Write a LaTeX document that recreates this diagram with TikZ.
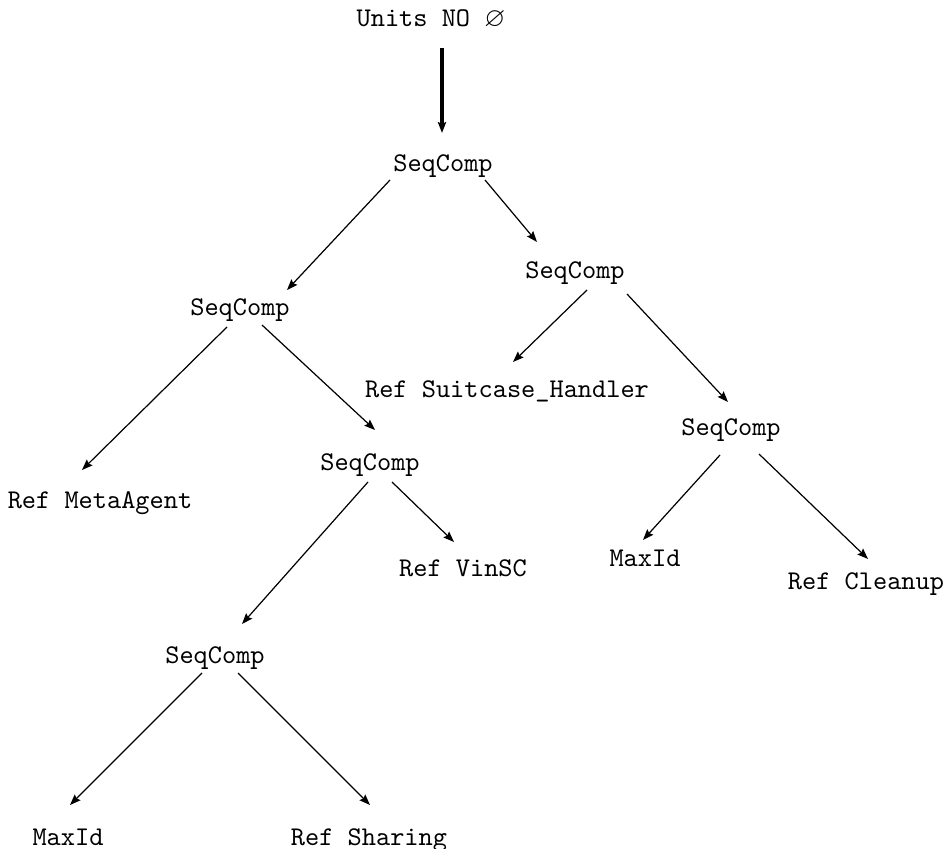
\documentclass[tikz,border=0pt]{standalone}
\usepackage{amssymb}
\usetikzlibrary{arrows.meta}
\begin{document}
\begin{tikzpicture}[x=0.37pt,y=-0.37pt,
  lbl/.style={font=\ttfamily, inner sep=0pt, anchor=base},
  edge/.style={line width=0.45pt, -{Stealth[length=4pt,width=3pt,inset=0.6pt]}},
  rootedge/.style={line width=1.2pt, -{Stealth[length=4pt,width=3pt,inset=0.6pt]}}]
\useasboundingbox (0,0) rectangle (945,849);

% labels of the tree, placed at their baselines
\node[lbl] (units) at (431,27)  {Units NO $\varnothing$};
\node[lbl] (s0)    at (443,172) {SeqComp};
\node[lbl] (sl)    at (240,316) {SeqComp};
\node[lbl] (sr)    at (575,279) {SeqComp};
\node[lbl] (suit)  at (507,398) {Ref Suitcase\_Handler};
\node[lbl] (srr)   at (731,436) {SeqComp};
\node[lbl] (maxr)  at (645,566) {MaxId};
\node[lbl] (clean) at (866,590) {Ref Cleanup};
\node[lbl] (meta)  at (100,508) {Ref MetaAgent};
\node[lbl] (slr)   at (370,471) {SeqComp};
\node[lbl] (vin)   at (463,576) {Ref VinSC};
\node[lbl] (sll)   at (215,663) {SeqComp};
\node[lbl] (maxl)  at (68,845)  {MaxId};
\node[lbl] (share) at (369,845) {Ref Sharing};

% connectors
\draw[rootedge] ([shift={(11,21)}]units.base) -- ([shift={(-1,-39)}]s0.base);
\draw[edge] ([shift={(-53,8)}]s0.base) -- ([shift={(47,-26)}]sl.base);
\draw[edge] ([shift={(42,8)}]s0.base)  -- ([shift={(-38,-37)}]sr.base);
\draw[edge] ([shift={(12,11)}]sr.base) -- ([shift={(6,-36)}]suit.base);
\draw[edge] ([shift={(52,15)}]sr.base) -- ([shift={(-3,-34)}]srr.base);
\draw[edge] ([shift={(-11,19)}]srr.base) -- ([shift={(-2,-26)}]maxr.base);
\draw[edge] ([shift={(28,18)}]srr.base)  -- ([shift={(2,-31)}]clean.base);
\draw[edge] ([shift={(-13,11)}]sl.base) -- ([shift={(-18,-38)}]meta.base);
\draw[edge] ([shift={(22,9)}]sl.base)   -- ([shift={(5,-41)}]slr.base);
\draw[edge] ([shift={(22,11)}]slr.base) -- ([shift={(-9,-34)}]vin.base);
\draw[edge] ([shift={(-2,11)}]slr.base) -- ([shift={(27,-39)}]sll.base);
\draw[edge] ([shift={(-13,10)}]sll.base) -- ([shift={(2,-40)}]maxl.base);
\draw[edge] ([shift={(23,10)}]sll.base)  -- ([shift={(1,-40)}]share.base);
\end{tikzpicture}
\end{document}
